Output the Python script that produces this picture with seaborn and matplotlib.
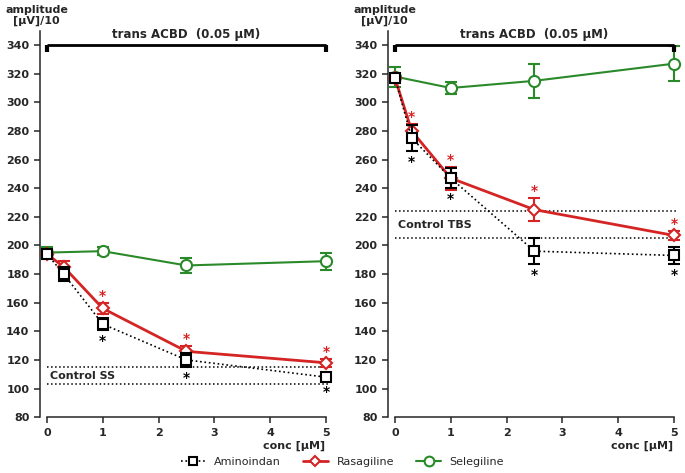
import numpy as np
import pandas as pd
import seaborn as sns
import matplotlib.pyplot as plt
from matplotlib.lines import Line2D

sns.set_style("ticks")
plt.rcParams['font.family'] = ['DejaVu Sans']

conc = [0, 0.3, 1, 2.5, 5]
conc_sel = [0, 1, 2.5, 5]

# left panel (Control SS)
ss_amino = [194, 180, 145, 120, 108]
ss_amino_err = [3, 5, 4, 5, 3]
ss_rasa = [194, 185, 156, 126, 118]
ss_rasa_err = [3, 4, 4, 4, 3]
ss_sele = [195, 196, 186, 189]
ss_sele_err = [4, 3, 5, 6]
ss_control = [115, 103]

# right panel (Control TBS)
tbs_amino = [317, 275, 247, 196, 193]
tbs_amino_err = [3, 9, 7, 9, 6]
tbs_rasa = [317, 280, 247, 225, 207]
tbs_rasa_err = [3, 5, 8, 8, 3]
tbs_sele = [318, 310, 315, 327]
tbs_sele_err = [7, 4, 12, 12]
tbs_control = [224, 205]

red = '#d42424'
green = '#2a8a2a'
styles = {
    'Aminoindan': dict(color='black', marker='s', ls=':', lw=1.2, ms=7),
    'Rasagiline': dict(color=red, marker='D', ls='-', lw=2.0, ms=6),
    'Selegiline': dict(color=green, marker='o', ls='-', lw=1.5, ms=8),
}

fig = plt.figure(figsize=(6.85, 4.73), dpi=100)
ax1 = fig.add_axes([0.058, 0.118, 0.43, 0.817])
ax2 = fig.add_axes([0.566, 0.118, 0.43, 0.817])


def draw(ax, amino, amino_err, rasa, rasa_err, sele, sele_err, control, label,
         red_stars, black_stars):
    series = [
        ('Selegiline', conc_sel, sele, sele_err),
        ('Rasagiline', conc, rasa, rasa_err),
        ('Aminoindan', conc, amino, amino_err),
    ]
    for z, (name, xs, ys, es) in enumerate(series):
        st = styles[name]
        df = pd.DataFrame({'conc': xs, 'amp': ys})
        sns.lineplot(data=df, x='conc', y='amp', ax=ax, color=st['color'],
                     linestyle=st['ls'], linewidth=st['lw'], marker=st['marker'],
                     markersize=st['ms'], markerfacecolor='white',
                     markeredgecolor=st['color'], markeredgewidth=1.5,
                     zorder=3 + z)
        ax.errorbar(xs, ys, yerr=es, fmt='none', ecolor=st['color'],
                    elinewidth=1.5, capsize=4, capthick=1.5, zorder=2 + z)

    for x in red_stars:
        i = conc.index(x)
        ax.annotate('*', (x, rasa[i] + rasa_err[i]), xytext=(0, 0),
                    textcoords='offset points', ha='center', va='bottom',
                    color=red, fontsize=10, fontweight='bold')
    for x in black_stars:
        i = conc.index(x)
        ax.annotate('*', (x, amino[i] - amino_err[i]), xytext=(0, -13),
                    textcoords='offset points', ha='center', va='bottom',
                    color='black', fontsize=10, fontweight='bold')

    for c in control:
        ax.plot([0, 5.05], [c, c], color='black', ls=':', lw=1.1, zorder=1)
    ax.text(0.05, (control[0] + control[1]) / 2, label, fontsize=8,
            fontweight='bold', va='center', ha='left')

    ax.plot([0, 5], [340, 340], color='black', lw=2, solid_capstyle='butt')
    ax.plot([0, 0], [335, 340], color='black', lw=3, solid_capstyle='butt')
    ax.plot([5, 5], [335, 340], color='black', lw=3, solid_capstyle='butt')
    ax.text(2.5, 343, 'trans ACBD  (0.05 µM)', ha='center', va='bottom',
            fontsize=8.5, fontweight='bold')

    ax.set_xlim(-0.13, 5.15)
    ax.set_ylim(80, 350)
    ax.set_xticks(range(6))
    ax.set_yticks(range(80, 341, 20))
    ax.spines['right'].set_visible(False)
    ax.spines['top'].set_visible(False)
    ax.spines['bottom'].set_bounds(0, 5)
    ax.spines['left'].set_bounds(80, 350)
    for sp in ('left', 'bottom'):
        ax.spines[sp].set_linewidth(1.1)
    ax.tick_params(labelsize=8, width=1.1, length=4)
    for t in ax.get_xticklabels() + ax.get_yticklabels():
        t.set_fontweight('bold')
    ax.set_xlabel('')
    ax.set_ylabel('')
    ax.text(0.97, -0.075, 'conc [µM]', transform=ax.transAxes, ha='right',
            va='center', fontsize=8, fontweight='bold')
    ax.annotate('amplitude\n[µV]/10', xy=(-0.01, 1.0), xycoords='axes fraction',
                xytext=(0, 11), textcoords='offset points', ha='center',
                va='center', fontsize=8, fontweight='bold', linespacing=1.1)


draw(ax1, ss_amino, ss_amino_err, ss_rasa, ss_rasa_err, ss_sele, ss_sele_err,
     ss_control, 'Control SS', [1, 2.5, 5], [1, 2.5, 5])
draw(ax2, tbs_amino, tbs_amino_err, tbs_rasa, tbs_rasa_err, tbs_sele,
     tbs_sele_err, tbs_control, 'Control TBS', [0.3, 1, 2.5, 5],
     [0.3, 1, 2.5, 5])

handles = [Line2D([], [], color=styles[n]['color'], ls=styles[n]['ls'],
                  lw=styles[n]['lw'], marker=styles[n]['marker'],
                  ms=styles[n]['ms'] - 1, markerfacecolor='white',
                  markeredgewidth=1.5)
           for n in ['Aminoindan', 'Rasagiline', 'Selegiline']]
fig.legend(handles, ['Aminoindan', 'Rasagiline', 'Selegiline'], loc='center',
           bbox_to_anchor=(0.5, 0.024), ncol=3, frameon=False, fontsize=8,
           handlelength=2.2, columnspacing=2.0)

fig.savefig('out.png', dpi=100)
